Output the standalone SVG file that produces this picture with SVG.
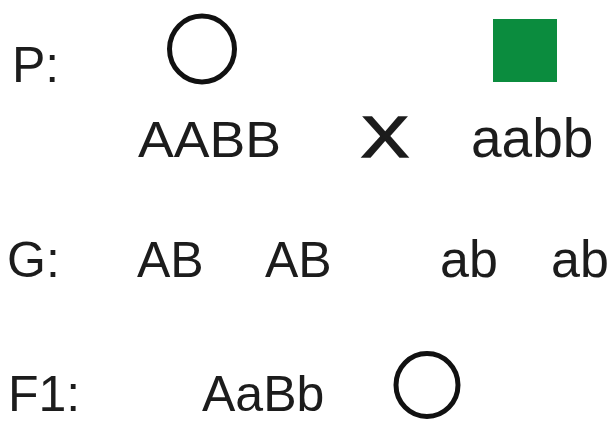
<svg xmlns="http://www.w3.org/2000/svg" width="613" height="422" viewBox="0 0 613 422">
<style>
text{font-family:"Liberation Sans",Arial,sans-serif;font-size:50px;fill:#1c1c1c}
.sym{fill:none;stroke:#111;stroke-width:5}
</style>
<rect width="613" height="422" fill="#fff"/>
<g id="labels">
<text x="12" y="82">P:</text>
<text x="7" y="277">G:</text>
<text x="8" y="411">F1:</text>
</g>
<g id="parent1">
<ellipse class="sym" cx="202" cy="49" rx="32.5" ry="33"/>
<text x="138" y="157" textLength="143" lengthAdjust="spacingAndGlyphs">AABB</text>
</g>
<g id="cross">
<text x="361" y="157" style="font-size:58px;stroke:#1c1c1c;stroke-width:1.6" textLength="48" lengthAdjust="spacingAndGlyphs">X</text>
</g>
<g id="parent2">
<rect x="493" y="19" width="64" height="63" fill="#0b8c3e"/>
<text x="471" y="157" style="font-size:55px">aabb</text>
</g>
<g id="gametes">
<text x="137" y="277">AB</text>
<text x="265" y="277">AB</text>
<text x="440" y="277" style="font-size:52px">ab</text>
<text x="551" y="277" style="font-size:52px">ab</text>
</g>
<g id="f1">
<text x="202" y="411">AaBb</text>
<ellipse class="sym" cx="427" cy="385" rx="31" ry="31.5"/>
</g>
<g id="connectors"/>
</svg>
